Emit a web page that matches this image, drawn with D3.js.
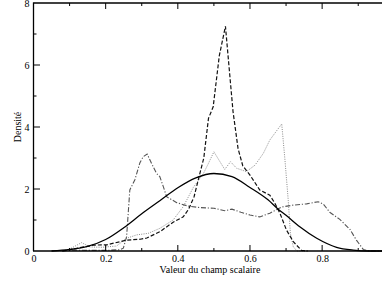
<!DOCTYPE html>
<html><head><meta charset="utf-8">
<script src="https://cdn.jsdelivr.net/npm/d3@7/dist/d3.min.js"></script>
<style>body{margin:0;background:#fff}svg{display:block}</style>
</head><body><svg id="c" width="382" height="283"></svg>
<script>
const xTicks=[0,0.2,0.4,0.6,0.8];
const yTicks=[0,2,4,6,8];
const xLabel="Valeur du champ scalaire";
const yLabel="Densité";

const solid=[[0.05,0],[0.1,0.05],[0.15,0.15],[0.2,0.37],[0.25,0.75],[0.3,1.2],[0.35,1.62],[0.4,2.04],[0.45,2.36],[0.5,2.5],[0.55,2.4],[0.6,2.05],[0.65,1.65],[0.678,1.35],[0.7,1.15],[0.738,0.78],[0.785,0.41],[0.84,0.12],[0.886,0.03],[0.93,0],[1,0]];
const dashed=[[0.08,0],[0.1,0.04],[0.166,0.19],[0.203,0.2],[0.258,0.35],[0.296,0.38],[0.314,0.42],[0.35,0.62],[0.387,0.93],[0.415,1.1],[0.43,1.35],[0.445,1.75],[0.46,2.45],[0.472,3.0],[0.485,4.28],[0.498,4.65],[0.515,6.3],[0.532,7.25],[0.54,6.2],[0.553,4.5],[0.567,3.3],[0.58,2.75],[0.6,2.45],[0.627,1.97],[0.655,1.8],[0.669,1.54],[0.683,1.22],[0.701,0.68],[0.72,0.3],[0.743,0.02],[0.76,0]];
const dotted=[[0.08,0],[0.1,0.06],[0.133,0.27],[0.157,0.13],[0.19,0.12],[0.23,0.16],[0.258,0.41],[0.286,0.52],[0.318,0.57],[0.35,0.73],[0.387,1.0],[0.415,1.43],[0.443,2.05],[0.471,2.5],[0.485,2.83],[0.5,3.2],[0.53,2.63],[0.546,2.88],[0.563,2.67],[0.59,2.56],[0.614,2.77],[0.637,3.15],[0.655,3.58],[0.688,4.1],[0.697,2.93],[0.706,1.64],[0.712,0.57],[0.72,0.14],[0.73,0],[0.76,0]];
const dashdot=[[0.08,0],[0.1,0.03],[0.15,0.02],[0.2,0.02],[0.24,0.04],[0.249,0.09],[0.258,0.46],[0.267,1.97],[0.281,2.3],[0.295,2.85],[0.304,3.04],[0.315,3.13],[0.327,2.83],[0.341,2.5],[0.35,2.4],[0.36,2.07],[0.369,1.75],[0.397,1.56],[0.428,1.45],[0.46,1.4],[0.5,1.38],[0.53,1.3],[0.55,1.35],[0.575,1.25],[0.6,1.16],[0.627,1.1],[0.655,1.22],[0.688,1.42],[0.72,1.48],[0.757,1.52],[0.789,1.59],[0.803,1.52],[0.821,1.25],[0.849,1.02],[0.877,0.7],[0.895,0.35],[0.914,0.05],[0.93,0],[1,0]];

const FONT="'Liberation Serif', 'Times New Roman', Times, serif";
const svg=d3.select("#c");
const x=d3.scaleLinear().domain([0,1]).range([33.5,394.3]);
const y=d3.scaleLinear().domain([0,8]).range([251,3]);

svg.append("line").attr("x1",33.5).attr("x2",382).attr("y1",3).attr("y2",3).attr("stroke","#000").attr("stroke-width",1.3);

const g=svg.append("g");
const line=d3.line().x(d=>x(d[0])).y(d=>y(d[1])).curve(d3.curveLinear);
g.append("path").datum(dotted).attr("d",line).attr("fill","none").attr("stroke","#8a8a8a").attr("stroke-width",1).attr("stroke-dasharray","1,1.3");
g.append("path").datum(dashdot).attr("d",line).attr("fill","none").attr("stroke","#555").attr("stroke-width",1.1).attr("stroke-dasharray","5,1.8,1.2,1.8");
g.append("path").datum(dashed).attr("d",line).attr("fill","none").attr("stroke","#111").attr("stroke-width",1.2).attr("stroke-dasharray","4,2");
g.append("path").datum(solid).attr("d",d3.line().x(d=>x(d[0])).y(d=>y(d[1])).curve(d3.curveMonotoneX)).attr("fill","none").attr("stroke","#000").attr("stroke-width",1.3);

const xb=svg.append("g").attr("transform","translate(0,251)")
  .call(d3.axisBottom(x).tickValues(xTicks).tickSize(0).tickPadding(4).tickFormat(d=>d===0?"0":d3.format(".1f")(d)));
xb.attr("font-family",null).attr("font-size",null);
xb.select(".domain").remove();
xb.selectAll("text").style("font-family",FONT).style("font-size","10px");
const yl=svg.append("g").attr("transform","translate(33.5,0)")
  .call(d3.axisLeft(y).tickValues(yTicks).tickSize(0).tickPadding(4).tickFormat(d3.format("d")));
yl.attr("font-family",null).attr("font-size",null);
yl.select(".domain").remove();
yl.selectAll("text").style("font-family",FONT).style("font-size","10px");

const majX=d3.range(0.2,1.0,0.2), minX=d3.range(0.1,1.0,0.2);
const tk=svg.append("g").attr("stroke","#000");
majX.forEach(v=>{tk.append("line").attr("x1",x(v)).attr("x2",x(v)).attr("y1",251).attr("y2",245).attr("stroke-width",1);
  tk.append("line").attr("x1",x(v)).attr("x2",x(v)).attr("y1",3).attr("y2",9).attr("stroke-width",1);});
minX.forEach(v=>{tk.append("line").attr("x1",x(v)).attr("x2",x(v)).attr("y1",251).attr("y2",248).attr("stroke-width",1);
  tk.append("line").attr("x1",x(v)).attr("x2",x(v)).attr("y1",3).attr("y2",6).attr("stroke-width",1);});
[2,4,6].forEach(v=>tk.append("line").attr("x1",33.5).attr("x2",40).attr("y1",y(v)).attr("y2",y(v)).attr("stroke-width",1));
[1,3,5,7].forEach(v=>tk.append("line").attr("x1",33.5).attr("x2",36.5).attr("y1",y(v)).attr("y2",y(v)).attr("stroke-width",1));

svg.append("line").attr("x1",33.5).attr("x2",33.5).attr("y1",2.4).attr("y2",251).attr("stroke","#000").attr("stroke-width",1.3);
svg.append("line").attr("x1",33).attr("x2",382).attr("y1",251).attr("y2",251).attr("stroke","#000").attr("stroke-width",1.3);

svg.append("text").attr("x",210).attr("y",273).attr("text-anchor","middle").style("font-family",FONT).style("font-size","10px").text(xLabel);
svg.append("text").attr("transform","translate(21,127) rotate(-90)").attr("text-anchor","middle").style("font-family",FONT).style("font-size","10px").text(yLabel);
</script></body></html>
